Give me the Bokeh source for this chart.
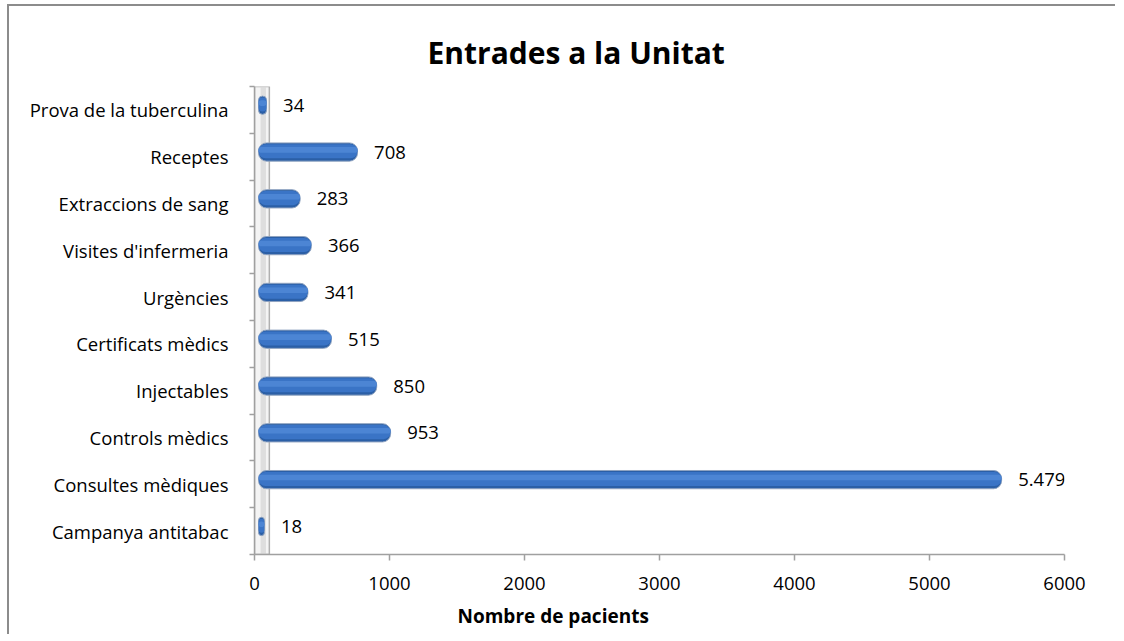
from bokeh.plotting import figure
from bokeh.models import (ColumnDataSource, Range1d, FixedTicker, Title, LinearAxis)
from bokeh.transform import dodge
from bokeh.core.properties import value
from bokeh.embed import file_html
from bokeh.resources import INLINE

categories = ["Campanya antitabac", "Consultes mèdiques", "Controls mèdics", "Injectables",
              "Certificats mèdics", "Urgències", "Visites d'infermeria", "Extraccions de sang",
              "Receptes", "Prova de la tuberculina"]
pacients = [18, 5479, 953, 850, 515, 341, 366, 283, 708, 34]
x_ticks = [0, 1000, 2000, 3000, 4000, 5000, 6000]

FONT = "Open Sans"

ypos = [i + 0.5 for i in range(len(categories))]
labels = [f"{v:,}".replace(",", ".") for v in pacients]
src = ColumnDataSource(dict(y=ypos, cat=categories, v=pacients, lab=labels,
                            zero=[0] * len(pacients)))

p = figure(width=1108, height=630, output_backend="svg", toolbar_location=None,
           x_range=Range1d(0, 6000), y_range=Range1d(0, len(categories)),
           min_border_left=245, min_border_right=53, min_border_top=80,
           min_border_bottom=79, outline_line_color=None,
           x_axis_location=None, y_axis_location=None)
p.styles = {"margin-left": "7px", "margin-top": "4px",
            "border-left": "2px solid #8c8c8c", "border-top": "2px solid #8c8c8c"}
p.xgrid.visible = False
p.ygrid.visible = False

# x axis
xa = LinearAxis(ticker=FixedTicker(ticks=x_ticks, minor_ticks=[]))
xa.axis_line_color = "#a0a0a0"
xa.axis_line_width = 1.5
xa.major_tick_line_color = "#a0a0a0"
xa.major_tick_line_width = 1.5
xa.major_tick_in = 0
xa.major_tick_out = 6
xa.minor_tick_line_color = None
xa.major_label_text_font = FONT
xa.major_label_text_font_size = "18.5px"
xa.major_label_text_color = "black"
xa.major_label_standoff = 16
p.add_layout(xa, "below")

# y axis (labels at category centres, ticks at boundaries)
ya = LinearAxis(ticker=FixedTicker(ticks=ypos, minor_ticks=list(range(len(categories) + 1))))
ya.major_label_overrides = {y: c for y, c in zip(ypos, categories)}
ya.axis_line_color = "#a0a0a0"
ya.axis_line_width = 1.5
ya.major_tick_line_color = None
ya.minor_tick_line_color = "#a0a0a0"
ya.minor_tick_line_width = 1.5
ya.minor_tick_in = 0
ya.minor_tick_out = 5
ya.major_label_text_font = FONT
ya.major_label_text_font_size = "18.5px"
ya.major_label_text_color = "black"
ya.major_label_standoff = 20
p.add_layout(ya, "left")

# back wall (3D look)
p.quad(left=0, right=110, bottom=0, top=len(categories), fill_color="#f4f4f4",
       line_color="#b0b0b0", line_width=1.5)
p.quad(left=45, right=85, bottom=0, top=len(categories), fill_color="#d8d8d8",
       line_color=None, fill_alpha=0.8)

# bars (cylinder-like look)
yb = dodge("y", 0.1, range=p.y_range)
xl = dodge("zero", 30, range=p.x_range)
xr = dodge("v", 55, range=p.x_range)
p.hbar(y=yb, left=xl, right=xr, height=0.39, source=src, fill_color="#2b5fa6",
       line_color="#8fa3c0", line_width=1, border_radius=8)
p.hbar(y=dodge("y", 0.115, range=p.y_range), left=xl, right=xr, height=0.30, source=src,
       fill_color="#3a74c6", line_color=None, border_radius=7)
p.hbar(y=dodge("y", 0.145, range=p.y_range), left=xl, right=xr, height=0.12, source=src,
       fill_color="#4c85d4", line_color=None, border_radius=4)

# value labels
p.text(x="v", y=yb, text="lab", source=src, x_offset=24, text_align="left",
       text_baseline="middle", text_font=value(FONT), text_font_size="18.5px",
       text_color="black")

# axis title
xt = Title(text="Nombre de pacients", align="left", offset=203, standoff=16,
           text_font=FONT, text_font_style="bold", text_font_size="19px",
           text_color="black")
p.add_layout(xt, "below")

# title
t = Title(text="Entrades a la Unitat", align="left", offset=173, standoff=27,
          text_font=FONT, text_font_style="bold", text_font_size="30px",
          text_color="black")
p.add_layout(t, "above")

open("out.html", "w").write(file_html(p, INLINE))
